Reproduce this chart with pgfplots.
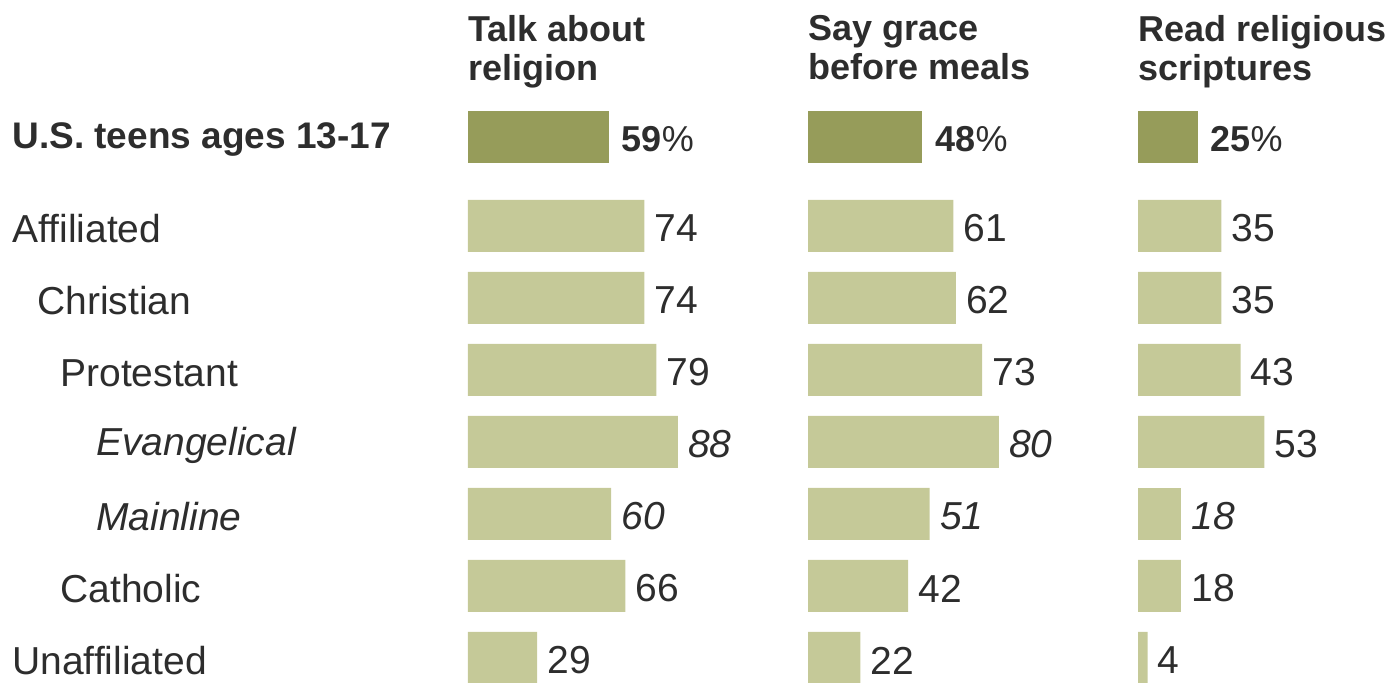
\documentclass[border=0pt]{standalone}
\usepackage{pgfplots}
\pgfplotsset{compat=1.18}
\usepackage{fontspec}
\setmainfont{Liberation Sans}
\definecolor{darkbar}{RGB}{150,156,90}
\definecolor{lightbar}{RGB}{197,201,152}
\definecolor{txt}{RGB}{45,45,45}
\pgfplotsset{
  /pgf/number format/assume math mode=true,
  panel/.style={
    scale only axis, width=143.1pt, height=341.5pt,
    xmin=0, xmax=120, ymin=-683, ymax=0,
    hide x axis, y axis line style={draw=none}, major tick length=0pt,
    ytick=\empty,
    xbar, bar width=26pt, bar shift=0pt,
    anchor=north west,
    title style={at={(0,1)}, anchor=north west, align=left, inner sep=0pt, yshift=-13.5pt,
      font=\fontsize{18}{19.5}\selectfont\bfseries, text=txt},
    nodes near coords style={anchor=west, inner xsep=0pt, xshift=5pt, yshift=-1.2pt, text=txt,
      font=\fontsize{19.5}{22}\selectfont},
  },
  darkp/.style={fill=darkbar, draw=none, bar shift=0pt,
    nodes near coords={\textbf{\pgfmathprintnumber{\pgfplotspointmeta}}\%},
    nodes near coords style={font=\fontsize{18}{21}\selectfont, xshift=1.3pt}},
  lightp/.style={fill=lightbar, draw=none, bar shift=0pt, nodes near coords},
  italp/.style={fill=lightbar, draw=none, bar shift=0pt, nodes near coords,
    nodes near coords style={font=\fontsize{19.5}{22}\selectfont\itshape}},
}
\begin{document}
\begin{tikzpicture}
\useasboundingbox (0,0) rectangle (693.5pt,341.5pt);
% Panel 1
\begin{axis}[panel, at={(234pt,341.5pt)}, title={Talk about\\religion},
  ytick={-137,-226,-298,-370,-442,-514,-586,-658},
  yticklabels={{\fontsize{18.5}{21}\selectfont\bfseries U.S. teens ages 13-17}, Affiliated, \hspace{12.5pt}Christian,
    \hspace{24pt}Protestant, \hspace{42pt}\itshape Evangelical, \hspace{42pt}\itshape Mainline,
    \hspace{24pt}Catholic, Unaffiliated},
  yticklabel style={anchor=west, inner sep=0pt, xshift=-228pt, yshift=-1.5pt, text=txt,
    font=\fontsize{19.5}{22}\selectfont}]
\addplot[darkp] coordinates {(59,-137)};
\addplot[lightp] coordinates {(74,-226) (74,-298) (79,-370) (66,-586) (29,-658)};
\addplot[italp] coordinates {(88,-442) (60,-514)};
\end{axis}
% Panel 2
\begin{axis}[panel, at={(404pt,341.5pt)}, title={Say grace\\before meals}]
\addplot[darkp] coordinates {(48,-137)};
\addplot[lightp] coordinates {(61,-226) (62,-298) (73,-370) (42,-586) (22,-658)};
\addplot[italp] coordinates {(80,-442) (51,-514)};
\end{axis}
% Panel 3
\begin{axis}[panel, at={(569pt,341.5pt)}, title={Read religious\\scriptures}]
\addplot[darkp] coordinates {(25,-137)};
\addplot[lightp] coordinates {(35,-226) (35,-298) (43,-370) (53,-442) (18,-586) (4,-658)};
\addplot[italp] coordinates {(18,-514)};
\end{axis}
\end{tikzpicture}
\end{document}
